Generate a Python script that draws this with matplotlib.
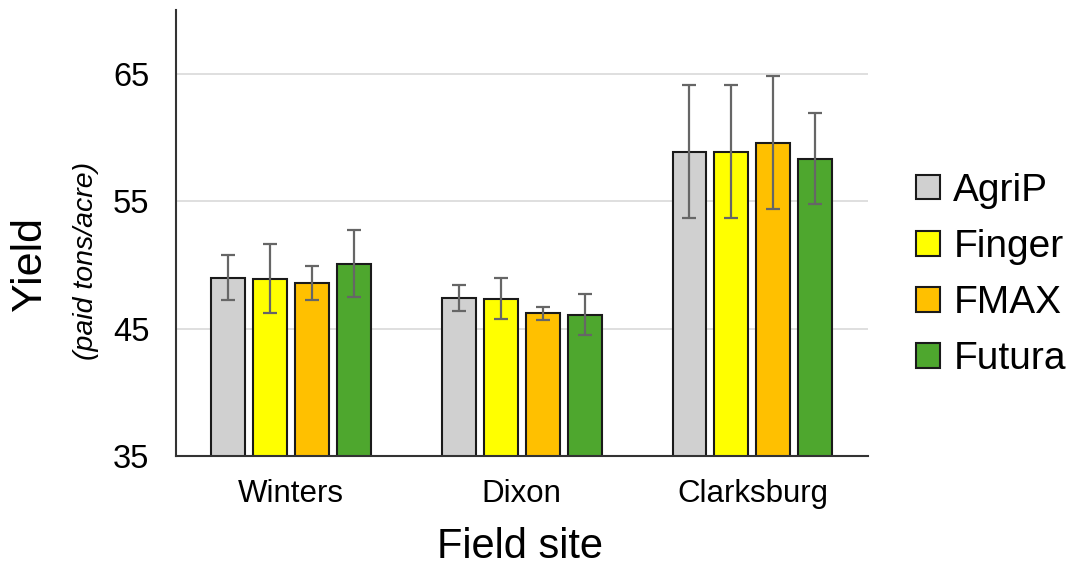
import numpy as np
import matplotlib
matplotlib.use("Agg")
import matplotlib.pyplot as plt

plt.rcParams['font.family'] = ['Liberation Sans', 'DejaVu Sans']

# DATA
sites = ['Winters', 'Dixon', 'Clarksburg']
varieties = ['AgriP', 'Finger', 'FMAX', 'Futura']
yield_mean = {
    'AgriP':  [49.0, 47.4, 58.9],
    'Finger': [48.9, 47.35, 58.9],
    'FMAX':   [48.6, 46.2, 59.6],
    'Futura': [50.1, 46.1, 58.35],
}
yield_err = {
    'AgriP':  [1.75, 1.0, 5.2],
    'Finger': [2.7, 1.6, 5.2],
    'FMAX':   [1.35, 0.5, 5.25],
    'Futura': [2.65, 1.6, 3.6],
}
colors = ['#D0D0D0', '#FFFF00', '#FFC000', '#4EA72E']
yticks = [35, 45, 55, 65]

fig = plt.figure(figsize=(10.78, 5.67), dpi=100)
ax = fig.add_axes([0.163, 0.196, 0.642, 0.786])

x = np.arange(len(sites))
width = 0.147
step = 0.182
for i, v in enumerate(varieties):
    pos = x + (i - 1.5) * step
    ax.bar(pos, yield_mean[v], width, color=colors[i], edgecolor='#1a1a1a',
           linewidth=1.5, label=v, zorder=2)
    ax.errorbar(pos, yield_mean[v], yerr=yield_err[v], fmt='none',
                ecolor='#666666', elinewidth=1.6, capsize=4.7, capthick=1.6,
                zorder=3)

ax.set_xlim(-0.5, 2.5)
ax.set_ylim(35, 70)
ax.set_yticks(yticks)
ax.set_xticks(x)
ax.set_xticklabels(sites, fontsize=22.5)
ax.tick_params(axis='y', length=0, labelsize=23.5, pad=19)
ax.tick_params(axis='x', length=0, pad=17)
ax.yaxis.grid(True, color='#D9D9D9', linewidth=1.2, zorder=0)
ax.set_axisbelow(True)
for s in ['top', 'right']:
    ax.spines[s].set_visible(False)
for s in ['left', 'bottom']:
    ax.spines[s].set_linewidth(1.5)
    ax.spines[s].set_color('#333333')

fig.text(0.482, 0.036, 'Field site', fontsize=30, ha='center', va='center')
fig.text(0.028, 0.535, 'Yield', fontsize=31, rotation=90, ha='center', va='center')
fig.text(0.080, 0.54, '(paid tons/acre)', fontsize=20.5, style='italic',
         rotation=90, ha='center', va='center')

ax.legend(loc='center left', bbox_to_anchor=(0.832, 0.515),
          bbox_transform=fig.transFigure, frameon=False, fontsize=28,
          handlelength=0.6, handleheight=0.6, handletextpad=0.35,
          labelspacing=0.52, borderpad=0)

fig.savefig('out.png', dpi=100)
